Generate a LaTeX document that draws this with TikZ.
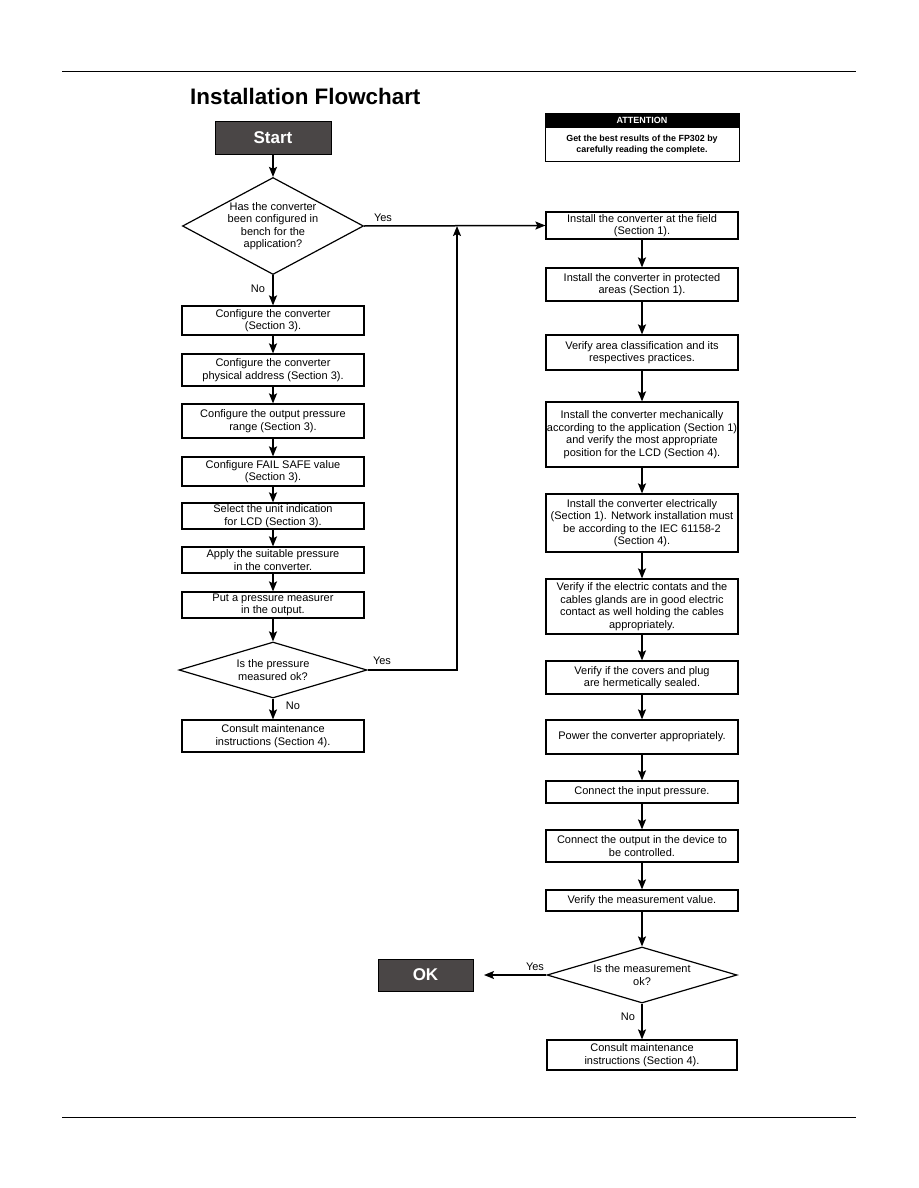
\documentclass[tikz,border=0pt]{standalone}
\usepackage{fontspec}
\setmainfont{Liberation Sans}
\usetikzlibrary{arrows.meta, positioning, shapes.geometric}
\definecolor{termgray}{RGB}{74, 70, 70}

\begin{document}
\begin{tikzpicture}[x=1pt, y=-1pt,
        proc/.style={rectangle, draw=black, fill=white, line width=1.2pt, align=center, inner sep=0.5pt, font=\fontsize{11}{12.5}\selectfont},
        decision/.style={diamond, draw=black, fill=white, line width=1.2pt, align=center, inner sep=0pt, font=\fontsize{11}{12.5}\selectfont},
        term/.style={rectangle, draw=black, fill=termgray, text=white, line width=0.8pt, font=\fontsize{17}{20}\selectfont\bfseries},
        lbl/.style={font=\fontsize{11}{12}\selectfont, inner sep=0pt},
        arr/.style={-{Stealth[length=10pt, width=8pt, inset=2pt]}, line width=1.5pt}
    ]
        \useasboundingbox (0,0) rectangle (918,1188);
        % page rules and title
        \draw[line width=0.9pt] (62,71) -- (856,71);
        \draw[line width=0.9pt] (62,1117) -- (856,1117);
        \node[anchor=west, inner sep=0pt, font=\fontsize{22.4}{26}\selectfont\bfseries] (title) at (190,96) {Installation Flowchart};

        % attention box
        \node[fill=black, draw=black, line width=0.8pt, text=white, minimum width=194pt, minimum height=14pt, inner sep=0pt, font=\fontsize{9}{10}\selectfont\bfseries] (attnhead) at (642,120) {ATTENTION};
        \node[draw=black, line width=0.8pt, minimum width=194pt, minimum height=34pt, inner sep=0pt, align=center, font=\fontsize{8.9}{11.5}\selectfont\bfseries, below=0pt of attnhead] (attnbody) {Get the best results of the FP302 by\\carefully reading the complete.};

        % left column
        \node[term, minimum width=116pt, minimum height=33pt] (start) at (273,137.5) {Start};
        \node[decision, aspect=1.87, minimum width=181pt, minimum height=97pt] (q1) at (273,226) {Has the converter\\been configured in\\bench for the\\application?};
        \node[proc, minimum width=182pt, minimum height=29pt] (b1) at (273,320.5) {Configure the converter\\(Section 3).};
        \node[proc, minimum width=182pt, minimum height=32pt] (b2) at (273,370) {Configure the converter\\physical address (Section 3).};
        \node[proc, minimum width=182pt, minimum height=34pt] (b3) at (273,421) {Configure the output pressure\\range (Section 3).};
        \node[proc, minimum width=182pt, minimum height=29pt] (b4) at (273,471.5) {Configure FAIL SAFE value\\(Section 3).};
        \node[proc, minimum width=182pt, minimum height=26pt] (b5) at (273,516) {Select the unit indication\\for LCD (Section 3).};
        \node[proc, minimum width=182pt, minimum height=26pt] (b6) at (273,560) {Apply the suitable pressure\\in the converter.};
        \node[proc, minimum width=182pt, minimum height=26pt] (b7) at (273,605) {Put a pressure measurer\\in the output.};
        \node[decision, aspect=3.36, minimum width=188pt, minimum height=56pt] (q2) at (273,670) {Is the pressure\\measured ok?};
        \node[proc, minimum width=182pt, minimum height=32pt] (b8) at (273,736) {Consult maintenance\\instructions (Section 4).};

        % right column
        \node[proc, minimum width=192pt, minimum height=27pt] (r1) at (642,225.5) {Install the converter at the field\\(Section 1).};
        \node[proc, minimum width=192pt, minimum height=33pt] (r2) at (642,284.5) {Install the converter in protected\\areas (Section 1).};
        \node[proc, minimum width=192pt, minimum height=35pt] (r3) at (642,352.5) {Verify area classification and its\\respectives practices.};
        \node[proc, minimum width=192pt, minimum height=65pt] (r4) at (642,434.5) {Install the converter mechanically\\according to the application (Section 1)\\and verify the most appropriate\\position for the LCD (Section 4).};
        \node[proc, minimum width=192pt, minimum height=58pt] (r5) at (642,523) {Install the converter electrically\\(Section 1). Network installation must\\be according to the IEC 61158-2\\(Section 4).};
        \node[proc, minimum width=192pt, minimum height=55pt] (r6) at (642,606.5) {Verify if the electric contats and the\\cables glands are in good electric\\contact as well holding the cables\\appropriately.};
        \node[proc, minimum width=192pt, minimum height=33pt] (r7) at (642,677.5) {Verify if the covers and plug\\are hermetically sealed.};
        \node[proc, minimum width=192pt, minimum height=34pt] (r8) at (642,737) {Power the converter appropriately.};
        \node[proc, minimum width=192pt, minimum height=22pt] (r9) at (642,792) {Connect the input pressure.};
        \node[proc, minimum width=192pt, minimum height=32pt] (r10) at (642,846) {Connect the output in the device to\\be controlled.};
        \node[proc, minimum width=192pt, minimum height=21pt] (r11) at (642,900.5) {Verify the measurement value.};
        \node[decision, aspect=3.39, minimum width=190pt, minimum height=56pt] (q3) at (642,975) {Is the measurement\\ok?};
        \node[proc, minimum width=190pt, minimum height=30pt] (r12) at (642,1055) {Consult maintenance\\instructions (Section 4).};
        \node[term, minimum width=95pt, minimum height=32pt] (ok) at (425.5,975) {OK};

        % branch labels
        \node[lbl] (yes1) at (383,218) {Yes};
        \node[lbl] (no1) at (258,289) {No};
        \node[lbl] (yes2) at (382,661) {Yes};
        \node[lbl] (no2) at (293,706) {No};
        \node[lbl] (yes3) at (535,967) {Yes};
        \node[lbl] (no3) at (628,1017) {No};

        \coordinate (join) at (457,226);
        \coordinate (okend) at (484,975);

        % connectors
        \draw[arr] (start) -- (q1);
        \draw[arr] (q1.east) -- (r1.west);
        \draw[arr] (q1) -- (b1);
        \draw[arr] (b1) -- (b2); \draw[arr] (b2) -- (b3);
        \draw[arr] (b3) -- (b4); \draw[arr] (b4) -- (b5);
        \draw[arr] (b5) -- (b6); \draw[arr] (b6) -- (b7);
        \draw[arr] (b7) -- (q2); \draw[arr] (q2) -- (b8);
        \draw[arr] (q2.east) -| (join);
        \draw[arr] (r1) -- (r2); \draw[arr] (r2) -- (r3);
        \draw[arr] (r3) -- (r4); \draw[arr] (r4) -- (r5);
        \draw[arr] (r5) -- (r6); \draw[arr] (r6) -- (r7);
        \draw[arr] (r7) -- (r8); \draw[arr] (r8) -- (r9);
        \draw[arr] (r9) -- (r10); \draw[arr] (r10) -- (r11);
        \draw[arr] (r11) -- (q3); \draw[arr] (q3) -- (r12);
        \draw[arr] (q3.west) -- (okend);
    \end{tikzpicture}
\end{document}
